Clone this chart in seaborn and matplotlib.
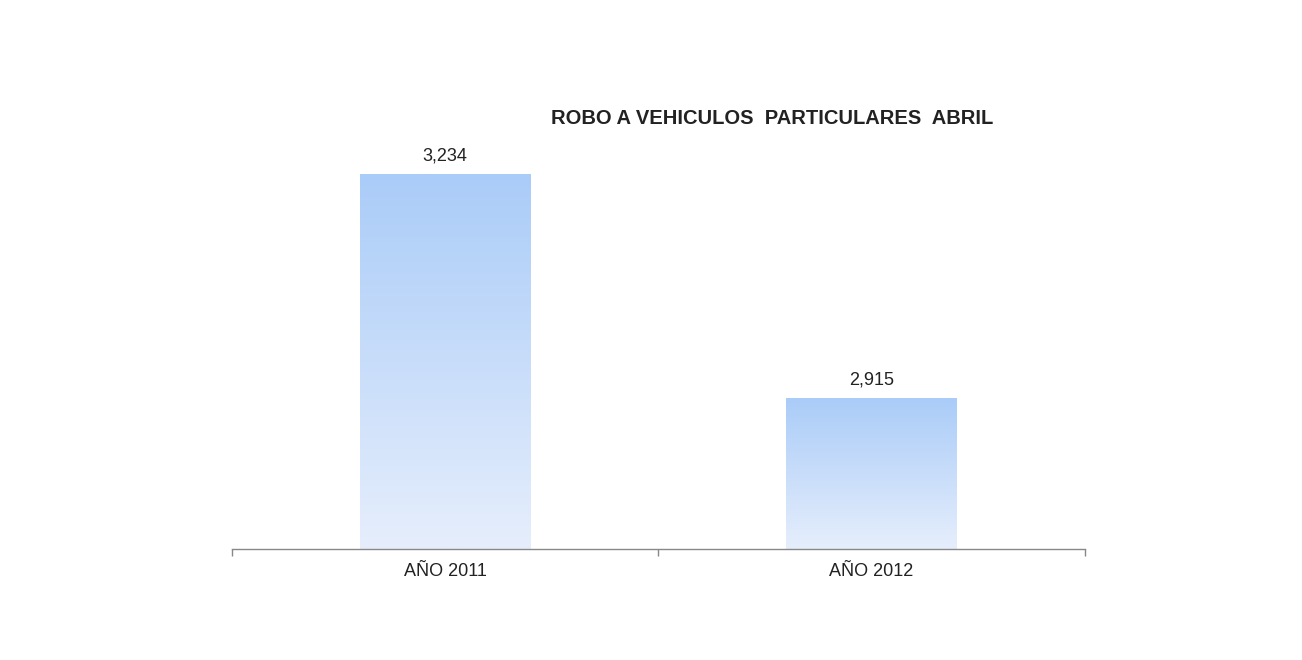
import numpy as np
import pandas as pd
import matplotlib
matplotlib.use("Agg")
import matplotlib.pyplot as plt
import seaborn as sns
from matplotlib.colors import LinearSegmentedColormap

# datos
categorias = ["AÑO 2011", "AÑO 2012"]
valores = [3234, 2915]
titulo = "ROBO A VEHICULOS  PARTICULARES  ABRIL"

df = pd.DataFrame({"anio": categorias, "robos": valores})

sns.set_style("white")
plt.rcParams['font.family'] = ['Liberation Sans', 'DejaVu Sans']

fig = plt.figure(figsize=(13.02, 6.6), dpi=100)
ax = fig.add_axes([0.178, 0.168, 0.655, 0.638])

sns.barplot(x="anio", y="robos", data=df, ax=ax, width=0.4,
            color="#aaccf8", saturation=1)

y_min, y_max = 2700, 3300

# degradado vertical en cada barra
cmap = LinearSegmentedColormap.from_list("grad", ["#e6eefc", "#aaccf8"])
grad = np.linspace(0, 1, 256).reshape(-1, 1)
for p in list(ax.patches):
    x0 = p.get_x()
    w = p.get_width()
    top = p.get_height()
    im = ax.imshow(grad, cmap=cmap, origin="lower", aspect="auto",
                   extent=[x0, x0 + w, y_min, top], zorder=2)
    im.set_clip_path(p)
    p.set_facecolor("none")
    p.set_edgecolor("none")
    ax.annotate(f"{top:,.0f}", (x0 + w / 2, top), xytext=(0, 7),
                textcoords="offset points", ha="center", va="bottom",
                fontsize=13, color="#222222")
ax.set_xlim(-0.5, 1.5)
ax.set_ylim(y_min, y_max)

# ejes
for s in ["top", "right", "left"]:
    ax.spines[s].set_visible(False)
ax.spines["bottom"].set_color("#888888")
ax.spines["bottom"].set_linewidth(1)
ax.set_yticks([])
ax.set_xlabel("")
ax.set_ylabel("")
ax.tick_params(axis="x", which="major", length=0, pad=10, labelsize=13,
               labelcolor="#222222")
ax.set_xticks([-0.5, 0.5, 1.5], minor=True)
ax.tick_params(axis="x", which="minor", bottom=True, length=5,
               direction="out", color="#888888", width=1)

fig.text(0.593, 0.82, titulo, ha="center", va="center",
         fontsize=14.5, fontweight="bold", color="#222222")

fig.savefig("out.png", dpi=100, facecolor="white")
